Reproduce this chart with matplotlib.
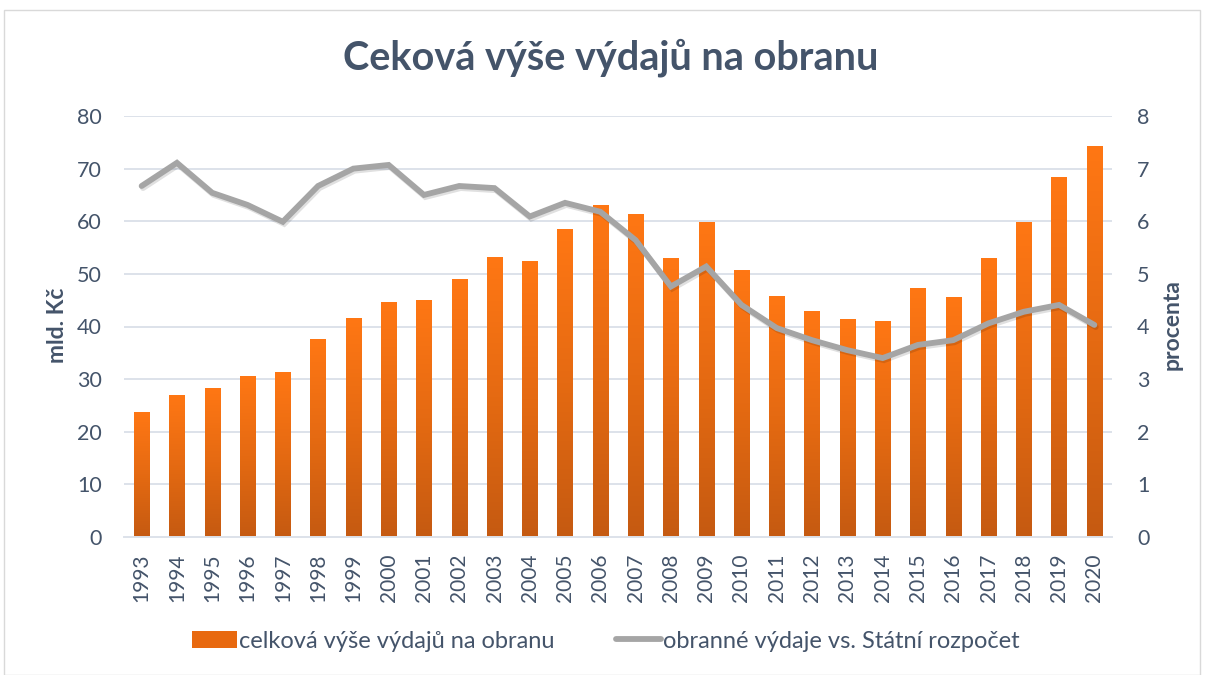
import matplotlib
matplotlib.use("Agg")
import matplotlib.pyplot as plt
import numpy as np
from matplotlib.patches import Rectangle, Patch
from matplotlib.lines import Line2D
import matplotlib.patheffects as pe
from matplotlib.colors import LinearSegmentedColormap

years = [str(y) for y in range(1993, 2021)]
spending = [23.75, 27.0, 28.3, 30.6, 31.35, 37.6, 41.6, 44.6, 45.0, 49.0,
            53.2, 52.4, 58.5, 63.1, 61.4, 53.0, 59.9, 50.7, 45.8, 42.9,
            41.4, 41.0, 47.3, 45.6, 53.0, 59.9, 68.4, 74.3]
share = [6.67, 7.11, 6.54, 6.31, 5.99, 6.67, 7.0, 7.07, 6.5, 6.67,
         6.63, 6.09, 6.35, 6.18, 5.64, 4.76, 5.14, 4.41, 3.97, 3.74,
         3.55, 3.40, 3.65, 3.74, 4.06, 4.28, 4.41, 4.03]

FONT = "Lato"
TXT = "#44546A"
plt.rcParams['font.family'] = [FONT, 'DejaVu Sans']

fig = plt.figure(figsize=(12.06, 6.75), dpi=100)
fig.patches.append(Rectangle((4/1206, 0.0), 1196/1206, 1 - 10/675, transform=fig.transFigure,
                             fill=False, edgecolor="#D9D9D9", linewidth=1.0))
ax = fig.add_axes([124/1206, 1 - 537/675, (1112 - 124)/1206, (537 - 116)/675])
ax2 = ax.twinx()

x = np.arange(len(years))
bars = ax.bar(x, spending, width=0.43, color="#E8690F", zorder=2)

cmap = LinearSegmentedColormap.from_list("og", ["#C55A11", "#E56A12", "#FF7714"])
grad = np.linspace(0, 1, 256).reshape(-1, 1)
for b in bars:
    x0, w, h = b.get_x(), b.get_width(), b.get_height()
    im = ax.imshow(grad, cmap=cmap, aspect='auto', origin='lower',
                   extent=(x0, x0 + w, 0, h), zorder=2.1)
    im.set_clip_path(b)
    b.set_facecolor("none")

ax.set_xlim(-0.5, len(years) - 0.5)
ax.set_ylim(0, 80)
ax.set_yticks(range(0, 81, 10))
ax.grid(axis='y', color="#DDE2EA", linewidth=1.4, zorder=0)
ax.set_axisbelow(True)
for s in ax.spines.values():
    s.set_visible(False)
for s in ax2.spines.values():
    s.set_visible(False)
ax.spines['bottom'].set_visible(True)
ax.spines['bottom'].set_color("#DDE2EA")
ax.spines['bottom'].set_linewidth(1.4)

ax.set_xticks(x)
ax.set_xticklabels(years, rotation=90)
ax.tick_params(axis='x', length=0, pad=12, labelsize=15, labelcolor=TXT)
ax.tick_params(axis='y', length=0, pad=16, labelsize=15.5, labelcolor=TXT)

ax2.plot(x, share, color="#A5A5A5", linewidth=4.2, solid_joinstyle='miter',
         solid_capstyle='round', zorder=3,
         path_effects=[pe.SimpleLineShadow(offset=(1.0, -1.5), alpha=0.12), pe.Normal()])
ax2.set_ylim(0, 8)
ax2.set_yticks(range(0, 9))
ax2.tick_params(axis='y', length=0, pad=18, labelsize=15.5, labelcolor=TXT)
ax.set_zorder(1)
ax2.set_zorder(2)
ax2.patch.set_visible(False)

fig.text(611/1206, 1 - 58/675, "Ceková výše výdajů na obranu", ha='center', va='center',
         fontsize=28.5, fontweight='bold', color=TXT)
fig.text(58/1206, 1 - 325/675, "mld. Kč", rotation=90, ha='center', va='center',
         fontsize=16.5, fontweight='bold', color=TXT)
fig.text(1172/1206, 1 - 325/675, "procenta", rotation=90, ha='center', va='center',
         fontsize=16.5, fontweight='bold', color=TXT)

handles = [Patch(facecolor="#E8690F", edgecolor='none'),
           Line2D([], [], color="#A5A5A5", linewidth=4.2, solid_capstyle='round')]
labels = ["celková výše výdajů na obranu", "obranné výdaje vs. Státní rozpočet"]
fig.legend(handles, labels, loc='center', bbox_to_anchor=(606/1206, 1 - 641/675), ncol=2,
           frameon=False, fontsize=17, handlelength=1.9, handleheight=0.7,
           handletextpad=0.1, columnspacing=2.6, labelcolor=TXT)

fig.savefig("out.png", dpi=100, facecolor="white")
